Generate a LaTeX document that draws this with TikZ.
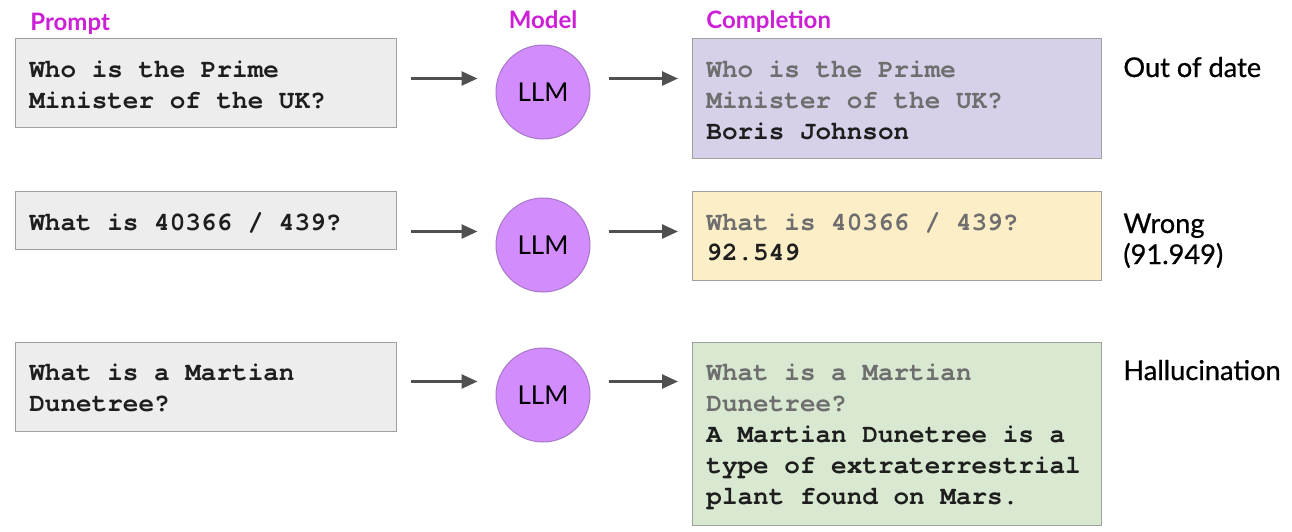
\documentclass[tikz,border=0pt]{standalone}
\usepackage{fontspec}
\setmainfont{Lato}
\newfontfamily\monob{TeX Gyre Cursor}
\newfontfamily\latomed{Lato}[FakeBold=0.7]
\usetikzlibrary{arrows.meta}
\definecolor{hdr}{HTML}{CC1FD6}
\definecolor{pfill}{HTML}{EDEDED}
\definecolor{pline}{HTML}{A0A0A0}
\definecolor{c1fill}{HTML}{D6D0E8}
\definecolor{c2fill}{HTML}{FCEFC8}
\definecolor{c3fill}{HTML}{D8E8D1}
\definecolor{llmfill}{HTML}{D38CFB}
\definecolor{llmline}{HTML}{A878C8}
\definecolor{arrcol}{HTML}{505050}
\definecolor{echo}{HTML}{6E6E6E}
\definecolor{ans}{HTML}{1E1E1E}
\tikzset{
  hdrlabel/.style={anchor=base west, inner sep=0pt, text=hdr, font=\fontsize{12}{14}\selectfont\bfseries},
  sidelabel/.style={anchor=base west, inner sep=0pt, text=black, font=\latomed\fontsize{13.6}{16}\selectfont},
  boxbase/.style={anchor=north west, draw=pline, line width=0.6pt, inner sep=0pt},
  pbox/.style={boxbase, fill=pfill, minimum width=190.5pt},
  cbox/.style={boxbase, minimum width=204.5pt},
  mono/.style={anchor=base west, inner sep=0pt, font=\monob\bfseries\fontsize{13}{15.5}\selectfont},
  monop/.style={mono, text=ans},
  monoe/.style={mono, text=echo},
  llm/.style={circle, draw=llmline, line width=0.5pt, fill=llmfill, minimum size=47pt, inner sep=0pt, font=\fontsize{13}{15}\selectfont},
  arr/.style={draw=arrcol, line width=1.3pt, -{Triangle[length=8pt,width=7pt]}}
}
\begin{document}
\begin{tikzpicture}[x=0.5pt,y=-0.5pt]
\useasboundingbox (0,0) rectangle (1292,531);
% headers
\node[hdrlabel] (hp) at (30,30) {Prompt};
\node[hdrlabel, anchor=base] (hm) at (543,28) {Model};
\node[hdrlabel] (hc) at (706,28) {Completion};
% prompt boxes
\node[pbox, minimum height=44.5pt] (pb1) at (15,38) {};
\node[pbox, minimum height=29pt] (pb2) at (15,191) {};
\node[pbox, minimum height=44.5pt] (pb3) at (15,342) {};
% completion boxes
\node[cbox, fill=c1fill, minimum height=60pt] (cb1) at (692,38) {};
\node[cbox, fill=c2fill, minimum height=44.5pt] (cb2) at (692,191) {};
\node[cbox, fill=c3fill, minimum height=91.5pt] (cb3) at (692,342) {};
% LLM circles
\node[llm] (m1) at (543,92) {LLM};
\node[llm] (m2) at (543,245) {LLM};
\node[llm] (m3) at (543,395) {LLM};
% prompt texts
\node[monop] (p1a) at (29,77) {Who is the Prime};
\node[monop] (p1b) at (29,108) {Minister of the UK?};
\node[monop] (p2a) at (29,230) {What is 40366 / 439?};
\node[monop] (p3a) at (29,380) {What is a Martian};
\node[monop] (p3b) at (29,411) {Dunetree?};
% completion texts
\node[monoe] (c1a) at (706,77) {Who is the Prime};
\node[monoe] (c1b) at (706,108) {Minister of the UK?};
\node[monop] (c1c) at (706,139) {Boris Johnson};
\node[monoe] (c2a) at (706,230) {What is 40366 / 439?};
\node[monop] (c2b) at (706,260) {92.549};
\node[monoe] (c3a) at (706,380) {What is a Martian};
\node[monoe] (c3b) at (706,411) {Dunetree?};
\node[monop] (c3c) at (706,442) {A Martian Dunetree is a};
\node[monop] (c3d) at (706,473) {type of extraterrestrial};
\node[monop] (c3e) at (706,504) {plant found on Mars.};
% side labels
\node[sidelabel] (s1) at (1123,77) {Out of date};
\node[sidelabel] (s2) at (1123,233) {Wrong};
\node[sidelabel] (s2b) at (1123,264) {(91.949)};
\node[sidelabel] (s3) at (1123,380) {Hallucination};
% arrows
\foreach \i in {1,2,3}{
  \coordinate (ay\i) at ([yshift=6.75pt]m\i.center);
  \draw[arr] ([xshift=7pt]pb\i.east |- ay\i) -- ([xshift=-9pt,yshift=6.75pt]m\i.west);
  \draw[arr] ([xshift=9pt,yshift=6.75pt]m\i.east) -- ([xshift=-7pt]cb\i.west |- ay\i);
}
\end{tikzpicture}
\end{document}
